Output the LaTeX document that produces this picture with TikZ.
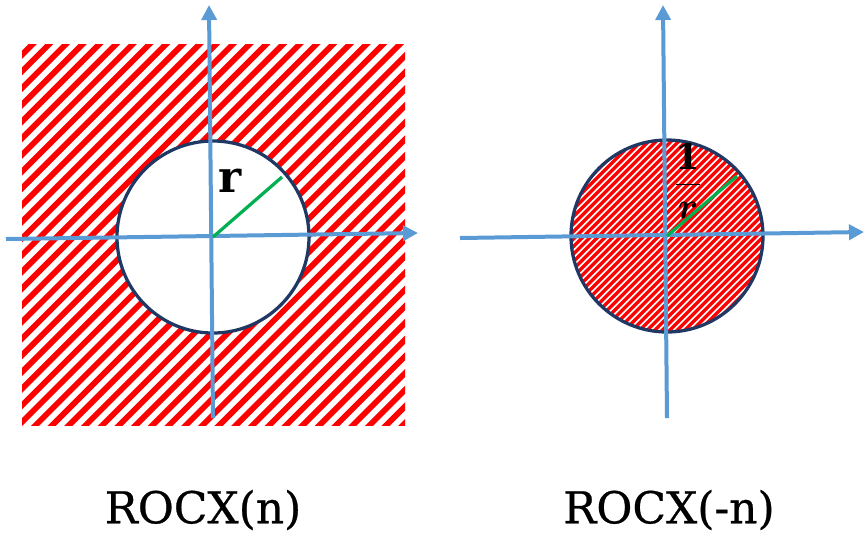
\documentclass[tikz,border=0pt]{standalone}
\usepackage{amsmath}
\usepackage{fontspec}
\setmainfont{DejaVu Serif}
\newfontfamily\capfont[FakeBold=0.6]{DejaVu Serif}
\usetikzlibrary{arrows.meta}

\definecolor{axisblue}{RGB}{91,155,213}
\definecolor{rimnavy}{RGB}{31,56,100}
\definecolor{radgreen}{RGB}{0,176,80}
\definecolor{hatchred}{RGB}{255,0,0}

\newcommand{\invradius}{$\displaystyle\frac{\mathbf{1}}{\boldsymbol{r}}$}

\begin{document}
\begin{tikzpicture}[x=0.02cm, y=-0.02cm, >={Triangle[length=0.3cm, width=0.3cm]}]

    \tikzset{
        axis/.style={->, axisblue, line width=0.08cm},
        rim/.style={rimnavy, line width=0.065cm},
        radline/.style={radgreen, line width=0.065cm},
        widehatch/.style={hatchred, line width=0.115cm},
        finehatch/.style={hatchred, line width=0.07cm},
        caption/.style={font=\capfont\fontsize{25}{30}\selectfont, inner sep=0pt},
    }

    \useasboundingbox[fill=white] (0,0) rectangle (865,539);

    % ==========================================
    % 1. LEFT PLANE: outside of the circle
    % ==========================================
    \coordinate (lc) at (213,237);
    \coordinate (lr) at (282,177);
    \coordinate (lxs) at (6,239);
    \coordinate (lxe) at (418,233);
    \coordinate (lys) at (213,418);
    \coordinate (lye) at (209,5);

    % Hatched square
    \begin{scope}
        \clip (22,44) rectangle (405,425);
        \foreach \c in {60,76.7,...,850}
            \draw[widehatch] (\c-20,20) -- (\c-450,450);
    \end{scope}

    % Hole
    \fill[white] (lc) circle (96);
    \draw[rim] (lc) circle (96);

    % Axes
    \draw[axis] (lxs) -- (lxe);
    \draw[axis] (lys) -- (lye);

    % Radius
    \draw[radline] (lc) -- (lr);
    \node[font=\fontsize{25}{30}\selectfont\bfseries, inner sep=0pt] (rlab) at (230,181) {r};

    \node[caption] (lcap) at (203,510) {ROCX(n)};

    % ==========================================
    % 2. RIGHT PLANE: inside of the circle
    % ==========================================
    \coordinate (rc) at (667,236);
    \coordinate (rr) at (737,176);
    \coordinate (rxs) at (460,238);
    \coordinate (rxe) at (864,232);
    \coordinate (rys) at (667,418);
    \coordinate (rye) at (663,5);

    % Hatched disc
    \begin{scope}
        \clip (rc) circle (96);
        \foreach \c in {760,767.5,...,1050}
            \draw[finehatch] (\c-120,120) -- (\c-360,360);
    \end{scope}
    \draw[rim] (rc) circle (96);

    % Axes
    \draw[axis] (rxs) -- (rxe);
    \draw[axis] (rys) -- (rye);

    % Radius
    \draw[radline] (rc) -- (rr);
    \node[font=\fontsize{20}{24}\selectfont, inner sep=0pt] (invr) at (688,181) {\invradius};

    \node[caption] (rcap) at (669,510) {ROCX(-n)};

\end{tikzpicture}
\end{document}
